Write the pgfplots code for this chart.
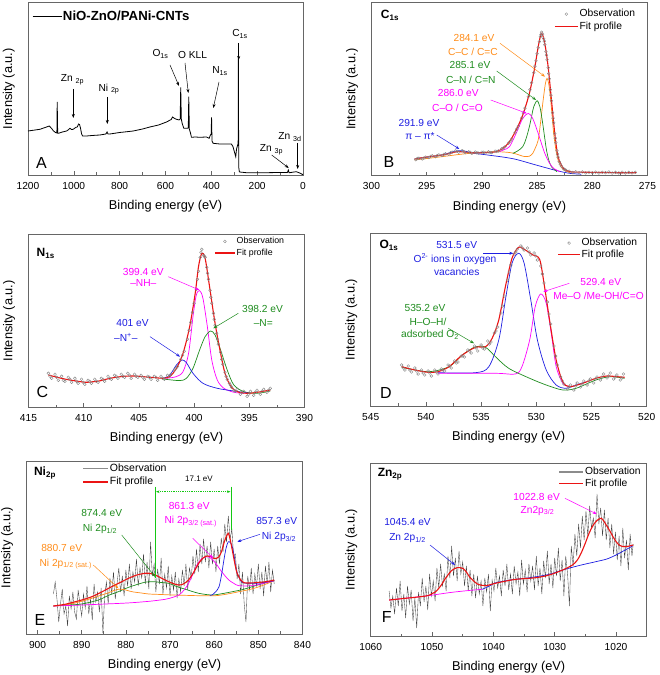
\documentclass[border=0pt]{standalone}
\usepackage{fontspec}
\setmainfont{Liberation Sans}
\usepackage{pgfplots}
\pgfplotsset{compat=1.18}
\usetikzlibrary{arrows.meta}

\definecolor{cOr}{RGB}{255,140,25}
\definecolor{cGr}{RGB}{30,140,30}
\definecolor{cLg}{RGB}{20,200,20}
\definecolor{cMa}{RGB}{255,0,255}
\definecolor{cBl}{RGB}{30,30,225}
\definecolor{cRd}{RGB}{235,20,20}
\definecolor{cGy}{RGB}{135,135,135}

\newcommand{\fa}{\fontsize{10.2}{11}\selectfont}
\newcommand{\ft}{\fontsize{12}{13}\selectfont\bfseries}
\newcommand{\fl}{\fontsize{16}{17}\selectfont}

\pgfplotsset{
  xps/.style={
    scale only axis, width=276pt, height=173pt,
    x dir=reverse, ymin=0, ymax=173,
    ytick=\empty, xtick pos=bottom, tick align=inside,
    minor x tick num=1,
    major tick length=4pt, minor tick length=2.5pt,
    axis line style={black!60, line width=0.7pt},
    every tick/.style={black!60, line width=0.6pt},
    /pgf/number format/assume math mode=true,
    /pgf/number format/1000 sep={},
    tick label style={font=\fontsize{10.2}{12}\selectfont},
    xticklabel style={yshift=-3.5pt},
    xlabel={Binding energy (eV)},
    ylabel={Intensity (a.u.)},
    label style={font=\fontsize{12.8}{14}\selectfont},
    xlabel style={at={(axis description cs:0.5,0)}, anchor=center, yshift=-31pt},
    ylabel style={at={(axis description cs:-0.07,0.5)}, anchor=center},
    legend cell align=left,
    legend style={draw=none, fill=none, inner sep=0pt, anchor=north west,
      nodes={inner sep=1pt, text depth=0.2em}},
  },
  legblack/.style={legend image code/.code={\draw[black, line width=0.8pt] (0pt,0pt) -- (#1,0pt);}},
  legred/.style={legend image code/.code={\draw[cRd, line width=1.5pt] (0pt,0pt) -- (#1,0pt);}},
  leggray/.style={legend image code/.code={\draw[black!45, line width=1.3pt] (0pt,0pt) -- (#1,0pt);}},
  legmark/.style={legend image code/.code={\draw[cGy, line width=0.4pt] plot[only marks, mark=o, mark size=1.4pt] coordinates {(#1/2,0pt)};}},
  obs/.style={only marks, mark=o, mark size=1.4pt, cGy, mark options={line width=0.4pt}, forget plot},
  fit/.style={cRd, line width=1.1pt, smooth, tension=0.5, forget plot},
  comp/.style={line width=0.7pt, smooth, tension=0.5, forget plot},
  noisy/.style={black!75, line width=0.35pt, forget plot},
}
\tikzset{ann/.style={-{Stealth[length=4pt,width=3pt]}, line width=0.5pt}}

\begin{document}
\begin{tikzpicture}
\useasboundingbox (0,0) rectangle (659pt,675pt);

% ---------------- A: survey
\begin{axis}[xps, at={(28pt,500pt)}, anchor=south west, width=275pt, height=172.5pt, ymax=172.5,
  xmin=0, xmax=1200, xtick={0,200,...,1200},
  legend style={at={(axis description cs:0.0145,0.958)}, font=\bfseries\fontsize{13.2}{14}\selectfont}]
\addlegendimage{legblack=29pt}
\addlegendentry{NiO-ZnO/PANi-CNTs}
\addplot[black, line width=0.8pt, forget plot] coordinates {
(1200,44)(1175,44.8)(1148,45.7)(1125,47.5)(1107,49)(1095,46)(1090,44.3)(1080,42.5)(1074,42)(1072.5,73)(1070.5,42)
(1067,41.7)(1050,43)(1031.5,44)(1025,45)(1017,46.7)(1010,45.5)(1002.4,45.7)(995,47)(990.8,47.7)(985,48)(979.2,51)
(975,50.5)(971,47)(966,41)(961.7,39)(944.3,39)(920,39.5)(886.2,40)(860,41)(855,43)(851,41)(842.6,41)(800,42.5)
(740.9,44)(700,46)(668.3,48)(630,50)(595.6,53)(575,55.5)(569.5,58)(560,56.5)(552.1,55.7)(540.4,55)(536,56)
(533.5,87.7)(531,56)(527.3,51.7)(520.1,46.7)(505.6,46.7)(500.5,47)(498.5,78.3)(496,46)(491,42)(486.7,37.7)
(470,38)(450.4,37.7)(421.3,38)(409.7,36.7)(403.9,40)(400.8,41)(399,57.7)(397,34)(392.3,31.7)(363.2,31)(312.4,31)
(305.4,28.3)(298,22)(293.5,18.3)(290,26)(285,30)(283,32)(282,116.7)(280.5,8)(278,3.5)(276,3)(247,2.3)(160,2.3)
(100,2.5)(68,2.5)(64,5)(61,2.4)(58,2.3)(45,2.8)(29,3.3)(14.5,2)(0,0.3)};
\end{axis}

% ---------------- B: C1s
\begin{axis}[xps, at={(371.5pt,499.3pt)}, anchor=south west,
  xmin=275, xmax=300, xtick={275,280,...,300},
  legend style={at={(axis description cs:0.661,0.968)}, font=\fontsize{10.3}{11}\selectfont, row sep=1pt}]
\addlegendimage{legmark=23pt}
\addlegendentry{Observation}
\addlegendimage{legred=23pt}
\addlegendentry{Fit profile}
\addplot[obs] coordinates {
(296.0,16.0)(295.7,17.5)(295.4,16.8)(295.1,18.6)(294.8,18.2)(294.5,19.9)(294.2,19.0)(293.9,20.8)(293.6,20.2)
(293.3,21.9)(293.0,21.5)(292.7,23.6)(292.4,24.8)(292.1,23.5)(291.8,25.0)(291.5,23.0)(291.2,23.9)(290.9,22.4)
(290.6,23.6)(290.3,22.6)(290.0,23.5)(289.7,22.7)(289.4,23.9)(289.1,23.0)(288.8,24.6)(288.5,24.8)(288.2,26.8)
(287.9,29.0)(287.6,32.5)(287.3,36.5)(287.0,43.0)(286.7,49.5)(286.4,57.5)(286.1,67.5)(285.8,79.0)(285.5,93.0)
(285.3,103.0)(285.1,115.0)(284.9,128.0)(284.8,134.0)(284.7,139.0)(284.6,143.5)(284.5,141.5)(284.4,137.0)
(284.3,131.0)(284.2,124.0)(284.1,116.0)(284.0,108.0)(283.9,97.0)(283.8,86.0)(283.7,75.0)(283.6,63.0)(283.5,53.0)
(283.4,42.0)(283.3,33.0)(283.2,25.0)(283.1,18.5)(283.0,14.0)(282.8,9.5)(282.6,7.0)(282.4,5.5)(282.1,4.5)
(281.8,3.2)(281.5,4.0)(281.2,3.0)(280.9,3.8)(280.6,2.8)(280.3,3.5)(280.0,2.9)(279.7,3.6)(279.4,2.7)(279.1,3.4)
(278.8,3.0)(278.5,3.7)(278.2,2.6)(277.9,3.3)(277.6,2.8)(277.3,3.5)(277.0,2.7)(276.7,3.3)(276.4,2.8)(276.1,3.4)
(295.85,17.2)(295.25,17.6)(294.65,19.3)(294.05,20.1)(293.45,21.3)(292.85,22.9)(292.25,24.4)(291.65,24.2)
(291.05,23.3)(290.45,22.9)(289.85,23.4)(289.25,23.2)(288.65,24.2)(288.05,27.7)(287.45,34.2)(286.85,46.5)
(286.25,62.8)(285.65,86.0)(285.2,109.5)(285.0,122.0)(284.65,141.0)(284.35,134.5)(284.15,120.5)(283.95,102.0)
(283.75,80.5)(283.55,57.5)(283.35,37.5)(283.15,21.5)(282.9,11.5)(282.5,6.2)};
\addplot[comp, cBl] coordinates {(296.1,16.7)(295,18.5)(294,20)(293.2,22)(292.5,24.3)(292,25)(291.5,24.5)(290.8,22.5)
(290.2,21.7)(289,20)(288,18.5)(286.9,16.3)(285.1,10.7)(283.2,5)(282,2.3)(281,1.5)};
\addplot[comp, cOr] coordinates {(296.1,15.7)(294,18.5)(291.7,21.7)(290,23.3)(288.7,24)(287.5,23.2)(286.9,21.7)
(286.2,19.3)(285.7,19.5)(285.4,22.3)(285.15,28)(284.9,35.7)(284.7,52)(284.45,75.7)(284.25,92)(284.1,97.3)(283.95,92)
(283.8,79)(283.65,61)(283.5,42.3)(283.3,26)(283.1,15.7)(282.85,9)(282.6,5.7)(282.0,3)};
\addplot[comp, cGr] coordinates {(287.2,22.3)(286.8,24.5)(286.3,29)(286,37)(285.7,49)(285.45,62)(285.3,69)(285.0,75)
(284.75,69)(284.6,60)(284.45,49)(284.3,37)(284.15,25.7)(283.95,16)(283.7,9)(283.2,4)};
\addplot[comp, cMa] coordinates {(288.4,24)(288,26)(287.5,29)(286.9,42.3)(286.3,57.3)(285.8,62.3)(285.4,57.3)
(284.9,42.3)(284.6,32)(284.3,22.3)(283.9,13)(283.5,7.3)(282.9,4)};
\addplot[fit] coordinates {(296.1,16.7)(295.5,17.8)(294.8,19)(294.2,19.8)(293.6,20.7)(293,22)(292.3,24)
(291.7,23.8)(291.1,23)(290.5,23)(289.9,23)(289.3,23.3)(288.7,24)(288.1,27.3)(287.5,34)(286.9,45.7)(286.3,60.7)
(285.7,82.3)(285.2,109)(284.9,129)(284.6,142.3)(284.3,132)(284.0,109)(283.7,75.7)(283.4,42.3)(283.1,19)(282.6,7.3)
(282.0,4)(281,3.5)(279.6,3.3)(278,3)(276,3)};
\end{axis}

% ---------------- C: N1s
\begin{axis}[xps, at={(28.5pt,267.7pt)}, anchor=south west,
  xmin=390, xmax=415, xtick={390,395,...,415},
  legend style={at={(axis description cs:0.672,0.99)}, font=\fontsize{8.8}{10}\selectfont, row sep=1.4pt}]
\addlegendimage{legmark=20pt}
\addlegendentry{Observation}
\addlegendimage{legred=20pt}
\addlegendentry{Fit profile}
\addplot[obs] coordinates {
(413.2,34)(412.9,29)(412.6,33)(412.3,27)(412.0,31)(411.7,26)(411.4,30)(411.1,25)(410.8,29)(410.5,24)(410.2,28)
(409.9,23)(409.6,27)(409.3,24)(409.0,28)(408.7,25)(408.4,29)(408.1,26)(407.8,31)(407.5,28)(407.2,32)(406.9,29)
(406.6,33)(406.3,30)(406.0,34)(405.7,29)(405.4,33)(405.1,30)(404.8,32)(404.5,28)(404.2,31)(403.9,28)(403.6,31)
(403.3,27)(403.0,31)(402.7,28)(402.4,32)(402.1,33)(401.8,37)(401.5,41)(401.2,48)(400.9,56)(400.6,68)(400.3,85)
(400.0,104)(399.8,118)(399.6,136)(399.45,150)(399.3,158)(399.15,152)(399.0,150)(398.85,140)(398.7,128)
(398.55,117)(398.4,104)(398.25,94)(398.1,82)(397.95,74)(397.8,63)(397.6,55)(397.4,43)(397.2,35)(397.0,28)
(396.8,24)(396.6,20)(396.4,17)(396.1,18)(395.8,13)(395.5,16)(395.2,11)(394.9,16)(394.6,12)(394.3,17)(394.0,13)
(393.7,18)(393.4,15)(393.1,19)
(413.05,31)(412.45,30)(411.85,27)(411.25,28)(410.65,26)(410.05,25)(409.45,26)(408.85,26)(408.25,28)(407.65,29)
(407.05,31)(406.45,31)(405.85,32)(405.25,31)(404.65,30)(404.05,30)(403.45,30)(402.85,29)(402.25,31)(401.65,39)
(401.05,52)(400.45,77)(400.15,95)(399.7,128)(399.38,155)(399.07,151)(398.78,134)(398.48,110)(398.18,88)
(397.88,68)(397.5,48)(397.1,31)(396.7,22)(396.25,16)(395.65,15)(395.05,13)(394.45,15)(393.85,16)(393.25,17)};
\addplot[comp, cMa] coordinates {(402.5,29)(401.6,30.7)(401.0,35.7)(400.5,54)(400.1,90.7)(399.8,112.3)(399.5,116.7)
(399.2,109)(398.8,80.7)(398.4,47.3)(397.9,27.3)(397.3,19)(396.4,15)(395.5,14)};
\addplot[comp, cGr] coordinates {(402.8,28.3)(401.3,26.7)(400.7,29)(400.1,39)(399.5,57.3)(399.0,70.7)(398.5,76.3)
(398.1,72.3)(397.6,57.3)(397.0,37.3)(396.4,22.3)(395.5,15.7)(394.3,14)(393.1,16.3)};
\addplot[comp, cBl] coordinates {(402.8,29)(402.2,32.3)(401.6,42.3)(401.1,47.3)(400.7,44.7)(400.1,34)(399.2,24)
(397.9,19)(396.4,16.3)(394.9,14)};
\addplot[fit] coordinates {(413.2,32.3)(412.4,30)(411.6,28)(410.7,26.3)(409.8,25)(409.2,25.5)(408.6,26.3)
(407.8,28.5)(407.1,30)(406.3,31)(405.5,31.3)(404.8,30.8)(404.0,30)(403.4,29.5)(402.8,29)(402.2,30.7)(401.6,39)
(401.0,54)(400.4,80.7)(399.9,114)(399.6,140.7)(399.3,154)(399.0,149)(398.6,120.7)(398.1,84)(397.6,54)(397.2,34)
(396.7,21.3)(396.1,15.7)(395.2,14)(394.3,15)(393.1,17.3)};
\end{axis}

% ---------------- D: O1s
\begin{axis}[xps, at={(370.7pt,269pt)}, anchor=south west,
  xmin=520, xmax=545, xtick={520,525,...,545},
  legend style={at={(axis description cs:0.676,0.976)}, font=\fontsize{10.3}{11}\selectfont, row sep=0pt}]
\addlegendimage{legmark=21.7pt}
\addlegendentry{Observation}
\addlegendimage{legred=21.7pt}
\addlegendentry{Fit profile}
\addplot[obs] coordinates {
(542.2,41)(541.9,36)(541.6,40)(541.3,34)(541.0,38)(540.7,32)(540.4,36)(540.1,31)(539.8,35)(539.5,30)(539.2,36)
(538.9,32)(538.6,37)(538.3,35)(538.0,41)(537.7,38)(537.4,45)(537.1,44)(536.8,50)(536.5,49)(536.2,56)(535.9,53)
(535.6,60)(535.3,55)(535.0,61)(534.7,57)(534.4,65)(534.1,64)(533.8,73)(533.5,79)(533.2,93)(532.9,110)(532.6,126)
(532.3,141)(532.0,152)(531.7,157)(531.4,160)(531.1,156)(530.8,158)(530.5,151)(530.2,153)(529.9,146)(529.6,140)
(529.3,123)(529.0,104)(528.7,82)(528.4,60)(528.1,41)(527.8,29)(527.5,22)(527.2,17)(526.9,21)(526.6,16)(526.3,23)
(526.0,19)(525.7,25)(525.4,21)(525.1,27)(524.8,23)(524.5,29)(524.2,26)(523.9,32)(523.6,28)(523.3,33)(523.0,27)
(522.7,31)(522.4,26)(522.1,32)
(542.05,38)(541.45,36)(540.85,35)(540.25,33)(539.65,33)(539.05,34)(538.45,36)(537.85,40)(537.25,43)(536.65,50)
(536.05,55)(535.45,58)(534.85,58)(534.25,62)(533.65,75)(533.05,100)(532.45,134)(531.85,154)(531.25,158)
(530.65,154)(530.05,150)(529.45,132)(528.85,92)(528.25,50)(527.65,25)(527.05,19)(526.45,20)(525.85,22)
(525.25,25)(524.65,27)(524.05,29)(523.45,30)(522.85,29)(522.25,28)};
\addplot[comp, cBl] coordinates {(538.9,33.3)(535.5,33.3)(534.3,39.3)(533.4,66)(532.8,106)(532.2,142.7)(531.6,152.7)
(531.1,142.7)(530.5,106)(529.9,66)(529.1,36)(528.2,21)(527.3,17.7)(526.4,21)(525.5,24)};
\addplot[comp, cMa] coordinates {(538.9,32.7)(533.7,32.7)(531.9,32)(531.3,39.3)(530.6,66)(530.1,99.3)(529.6,112)
(529.1,102.7)(528.6,69.3)(528.2,39.3)(527.6,22.7)(527.0,19.3)};
\addplot[comp, cGr] coordinates {(542.2,38.7)(539.8,34.3)(537.9,39.3)(536.7,51)(535.5,59.3)(534.6,58.7)(533.7,49.3)
(532.5,37.7)(530.6,27.7)(529.1,21)(527.6,16)(526.4,17.7)(524.6,26)(523.3,29.3)(522,27.7)};
\addplot[fit] coordinates {(542.2,39.3)(541.0,36)(539.8,33.7)(538.9,34.3)(537.9,39.3)(536.7,51)
(535.5,58.7)(534.6,59.3)(534.0,67.7)(533.4,86)(532.8,119.3)(532.2,147.7)(531.6,158.7)(531.0,156)(530.3,151)
(529.7,146.7)(529.3,122.7)(528.8,86)(528.2,46)(527.6,24.3)(527.0,19.3)(525.8,22.7)(524.6,27.7)(523.6,30)
(522.7,29.3)(522.0,28.7)};
\end{axis}

% ---------------- E: Ni2p
\begin{axis}[xps, at={(26.5pt,41pt)}, anchor=south west,
  xmin=840, xmax=902.5, xtick={840,850,...,900},
  legend style={at={(axis description cs:0.202,0.99)}, font=\fontsize{10.5}{11}\selectfont, row sep=1.6pt}]
\addlegendimage{leggray=25pt}
\addlegendentry{Observation}
\addlegendimage{legred=25pt}
\addlegendentry{Fit profile}
\addplot[noisy] coordinates {
(896.4,40)(896.0,52)(895.6,35)(895.2,12)(894.8,30)(894.4,45)(894.0,20)(893.6,28)(893.2,8)(892.8,38)(892.4,25)
(892.0,42)(891.6,22)(891.2,15)(890.8,44)(890.4,30)(890.0,18)(889.6,40)(889.2,26)(888.8,48)(888.4,20)(888.0,35)
(887.6,14)(887.2,50)(886.8,32)(886.4,42)(886.0,22)(885.6,46)(885.2,1)(884.8,38)(884.4,52)(884.0,30)(883.6,56)
(883.2,40)(882.8,62)(882.4,35)(882.0,50)(881.6,66)(881.2,42)(880.8,58)(880.4,38)(880.0,64)(879.6,48)(879.2,70)
(878.8,45)(878.4,62)(878.0,52)(877.6,75)(877.2,48)(876.8,66)(876.4,56)(876.0,80)(875.6,50)(875.2,72)(874.8,45)
(874.4,92)(874.0,58)(873.6,70)(873.2,42)(872.8,65)(872.4,50)(872.0,76)(871.6,40)(871.2,60)(870.8,46)(870.4,68)
(870.0,38)(869.6,58)(869.2,44)(868.8,62)(868.4,36)(868.0,55)(867.6,42)(867.2,64)(866.8,48)(866.4,70)(866.0,44)
(865.6,66)(865.2,56)(864.8,78)(864.4,60)(864.0,85)(863.6,62)(863.2,90)(862.8,70)(862.4,95)(862.0,72)(861.6,88)
(861.2,66)(860.8,92)(860.4,70)(860.0,85)(859.6,62)(859.2,88)(858.8,70)(858.4,96)(858.0,82)(857.6,110)(857.2,92)
(856.8,118)(856.4,95)(856.0,105)(855.6,78)(855.2,80)(854.8,55)(854.4,70)(854.0,40)(853.6,62)(853.2,30)(852.8,12)
(852.4,58)(852.0,44)(851.6,66)(851.2,40)(850.8,60)(850.4,48)(850.0,70)(849.6,45)(849.2,62)(848.8,38)(848.4,68)
(848.0,50)(847.6,72)(847.2,42)(846.8,64)(846.4,50)};
\addplot[comp, cGr] coordinates {(896.4,28)(893,29)(890,30)(886.2,34)(884,38.5)(881.7,42.3)(879.5,46.5)(877.1,50)
(875.4,52)(873.7,52.3)(872,51.5)(870.3,50.7)(868.5,47.5)(866.5,44.7)(863.5,40.7)(860.5,39)(858,40.5)(855.9,42.3)
(853.5,44.5)(851.4,47.3)(849,50.5)(846.4,53.3)};
\addplot[comp, cOr] coordinates {(896.4,28)(892,30.5)(887.7,35.7)(885.8,38.5)(883.9,41.3)(882.7,43.5)(881.7,44.7)
(880.5,44.5)(878.6,42.3)(876.5,41)(874.8,40)(872,39.5)(869.5,39)(866,38.6)(863.5,38.3)(859.7,38.3)(857,40)
(854.4,42.3)(852,44.5)(849.8,47.3)(846.4,53.3)};
\addplot[comp, cMa] coordinates {(896.4,28)(891,28.8)(886.2,29.7)(882,30.5)(878.6,31.3)(874.5,32.8)(871.1,34.7)
(869.5,36.5)(868,39)(866.8,44)(865.8,50.7)(864.8,60)(863.9,69)(863,74.5)(862,77.3)(861.2,77)(860.5,74.7)
(859.5,70)(858.6,64)(857.6,58.5)(856.7,54)(855.5,50.5)(854.4,48.3)(851.4,48.3)(849,50.5)(846.4,53.3)};
\addplot[comp, cBl] coordinates {(861,38.8)(860.5,39)(859.7,42)(858.9,47.3)(858.3,60)(857.8,74)(857.3,86)(856.8,92.3)
(856.3,91)(855.9,87.3)(855.4,76)(855,64)(854.3,56)(853.6,51.3)(852,50.8)(850.6,50.7)(848.5,51.8)(846.4,53.3)};
\addplot[fit] coordinates {(896.4,28)(894,29.5)(892.3,31.3)(890,34)(887.7,37.3)(885.5,42)(883.2,47.3)
(881.3,51.5)(879.4,55.7)(877.5,59)(875.6,60.7)(874.4,60.5)(873.3,59)(871.8,55.5)(870.3,52.3)(869,50)(868,49)
(867,50)(865.8,54)(864.6,62)(863.5,70.7)(862.5,76)(861.6,78)(860.8,77.5)(860.1,75.7)(859.5,75.5)(858.9,77.3)
(858.3,83)(857.8,90.7)(857.3,97)(856.8,100.7)(856.4,95)(855.9,84)(855.3,70)(854.8,60.7)(854,54)(853.3,51.3)
(852,51)(850.6,51.3)(848.3,52.3)(846.4,54)};
\end{axis}

% ---------------- F: Zn2p
\begin{axis}[xps, at={(370.7pt,39pt)}, anchor=south west,
  xmin=1015, xmax=1060, xtick={1020,1030,...,1060},
  legend style={at={(axis description cs:0.68,0.982)}, font=\fontsize{10.3}{11}\selectfont, row sep=0pt}]
\addlegendimage{leggray=24pt}
\addlegendentry{Observation}
\addlegendimage{legred=24pt}
\addlegendentry{Fit profile}
\addplot[noisy] coordinates {
(1057.0,45)(1056.7,28)(1056.4,40)(1056.1,22)(1055.8,48)(1055.5,30)(1055.2,55)(1054.9,25)(1054.6,42)(1054.3,18)
(1054.0,50)(1053.7,32)(1053.4,46)(1053.1,15)(1052.8,38)(1052.5,8)(1052.2,44)(1051.9,30)(1051.6,58)(1051.3,34)
(1051.0,50)(1050.7,26)(1050.4,62)(1050.1,40)(1049.8,55)(1049.5,35)(1049.2,68)(1048.9,48)(1048.6,72)(1048.3,50)
(1048.0,62)(1047.7,45)(1047.4,80)(1047.1,58)(1046.8,90)(1046.5,60)(1046.2,78)(1045.9,55)(1045.6,85)(1045.3,62)
(1045.0,74)(1044.7,50)(1044.4,70)(1044.1,45)(1043.8,66)(1043.5,40)(1043.2,62)(1042.9,38)(1042.6,60)(1042.3,42)
(1042.0,55)(1041.7,30)(1041.4,58)(1041.1,44)(1040.8,62)(1040.5,25)(1040.2,56)(1039.9,45)(1039.6,68)(1039.3,48)
(1039.0,60)(1038.7,40)(1038.4,66)(1038.1,50)(1037.8,72)(1037.5,46)(1037.2,62)(1036.9,42)(1036.6,70)(1036.3,52)
(1036.0,64)(1035.7,40)(1035.4,76)(1035.1,52)(1034.8,66)(1034.5,44)(1034.2,72)(1033.9,55)(1033.6,70)(1033.3,46)
(1033.0,80)(1032.7,50)(1032.4,68)(1032.1,42)(1031.8,75)(1031.5,58)(1031.2,85)(1030.9,52)(1030.6,72)(1030.3,48)
(1030.0,78)(1029.7,60)(1029.4,88)(1029.1,55)(1028.8,76)(1028.5,40)(1028.2,80)(1027.9,62)(1027.6,30)(1027.3,90)
(1027.0,70)(1026.7,102)(1026.4,80)(1026.1,112)(1025.8,88)(1025.5,120)(1025.2,96)(1024.9,125)(1024.6,100)
(1024.3,130)(1024.0,108)(1023.7,118)(1023.4,98)(1023.1,142)(1022.8,112)(1022.5,128)(1022.2,100)(1021.9,126)
(1021.6,96)(1021.3,118)(1021.0,88)(1020.7,112)(1020.4,82)(1020.1,104)(1019.8,76)(1019.5,100)(1019.2,70)
(1018.9,108)(1018.6,78)(1018.3,96)(1018.0,66)(1017.7,102)(1017.4,80)(1017.2,92)};
\addplot[comp, cMa] coordinates {(1057,36)(1054,38)(1051,40)(1047,43.5)(1044,45.5)(1041.8,46.7)};
\addplot[comp, cBl] coordinates {(1041.8,46.7)(1040.5,50.5)(1039.6,53.3)(1037,56.2)(1034.1,58.3)(1031,61.5)(1028.7,66)
(1026,70.5)(1023.3,74.3)(1021.5,77)(1020,81)(1018.5,86)(1017.3,90)};
\addplot[fit] coordinates {(1057,36)(1054.3,37.7)(1051,40)(1050,42.3)(1049.4,44.3)(1048.6,50)(1047.8,57.7)
(1046.8,65.5)(1045.9,68.3)(1045,67.7)(1044.4,64)(1043.9,59.3)(1043.2,55)(1042.6,52)(1041.9,50.7)(1041.2,50.3)
(1039.8,52.5)(1038.5,54.3)(1036.3,56.7)(1033.1,58.3)(1030.9,61)(1028.7,66)(1027.1,71)(1026.3,76)(1025.7,82.7)
(1025,93)(1024.4,102.7)(1023.8,110)(1023.3,114.3)(1022.8,117)(1022.4,117.7)(1022,115)(1021.6,111)(1021,105)
(1020.5,99.3)(1020,94.5)(1019.5,91)(1018.9,89.5)(1018.4,89.3)(1017.8,90)(1017.2,91)};
\end{axis}

% ---------------- annotations (pixel frame, y downwards)
\begin{scope}[yshift=675pt, x=1pt, y=-1pt, every node/.style={inner sep=0pt}]
% A
\node[font=\fl] at (41.5,163) {A};
\node[font=\fa] at (72.5,80) {Zn \textsubscript{2p}};
\draw[ann] (73.3,89) -- (73.3,118);
\node[font=\fa] at (109,89) {Ni \textsubscript{2p}};
\draw[ann] (107.3,97) -- (107.3,124);
\node[font=\fa] at (160.5,54) {O\textsubscript{1s}};
\draw[ann] (170,65) -- (179,86);
\node[font=\fa] at (192.5,55) {O KLL};
\draw[ann] (185,63) -- (188.3,93);
\node[font=\fa] at (220,71) {N\textsubscript{1s}};
\draw[ann] (219,82) -- (213.3,108);
\node[font=\fa] at (240,34) {C\textsubscript{1s}};
\draw[ann] (238.7,43) -- (238.7,60);
\node[font=\fa] at (290,137) {Zn \textsubscript{3d}};
\draw[ann] (297.7,143) -- (297.7,169);
\node[font=\fa] at (271.5,150) {Zn \textsubscript{3p}};
\draw[ann] (271.7,155) -- (288.7,168);
% B
\node[font=\ft] at (390,15) {C\textsubscript{1s}};
\node[font=\fl] at (389,161.7) {B};
\node[font=\fa, text=cOr] at (474,38) {284.1 eV};
\node[font=\fa, text=cOr] at (473,52.3) {C–C / C=C};
\draw[ann, cOr] (500,43.3) -- (545,76.7);
\node[font=\fa, text=cGr] at (470,65) {285.1 eV};
\node[font=\fa, text=cGr] at (470.8,80) {C–N / C=N};
\draw[ann, cGr] (496.7,71) -- (536,100);
\node[font=\fa, text=cMa] at (458.3,93.3) {286.0 eV};
\node[font=\fa, text=cMa] at (457.5,107.7) {C–O / C=O};
\draw[ann, cMa] (490.7,100) -- (526.7,113.3);
\node[font=\fa, text=cBl] at (419,122.7) {291.9 eV};
\node[font=\fa, text=cBl] at (420,136) {π – π*};
\draw[ann, cBl] (436.7,135) -- (459.3,149);
% C
\node[font=\ft] at (45.7,253.3) {N\textsubscript{1s}};
\node[font=\fl] at (42.5,391.7) {C};
\node[font=\fa, text=cMa] at (143.3,271.7) {399.4 eV};
\node[font=\fa, text=cMa] at (143.3,283.3) {–NH–};
\draw[ann, cMa] (168.3,276.7) -- (199.3,290);
\node[font=\fa, text=cGr] at (262.5,309.3) {398.2 eV};
\node[font=\fa, text=cGr] at (263.3,323.3) {–N=};
\draw[ann, cGr] (238.3,313.3) -- (213.3,328.3);
\node[font=\fa, text=cBl] at (132.5,323.3) {401 eV};
\node[font=\fa, text=cBl] at (125.8,337.3) {–N\textsuperscript{+}–};
\draw[ann, cBl] (150,336.7) -- (180,356.7);
% D
\node[font=\ft] at (389,245) {O\textsubscript{1s}};
\node[font=\fl] at (386,393.3) {D};
\node[font=\fa, text=cBl] at (456.7,245) {531.5 eV};
\node[font=\fa, text=cBl] at (455,259.3) {O\textsuperscript{2-} ions in oxygen};
\node[font=\fa, text=cBl] at (456.7,272.3) {vacancies};
\draw[ann, cBl] (483.3,253.3) -- (513.3,253.3);
\node[font=\fa, text=cMa] at (600.8,281.7) {529.4 eV};
\node[font=\fa, text=cMa] at (598.5,296) {Me–O /Me-OH/C=O};
\draw[ann, cMa] (569.3,283.3) -- (543.3,291.7);
\node[font=\fa, text=cGr] at (425,308.3) {535.2 eV};
\node[font=\fa, text=cGr] at (428,321.7) {H–O–H/};
\node[font=\fa, text=cGr] at (430,335) {adsorbed O\textsubscript{2}};
\draw[ann, cGr] (448.3,328.3) -- (474,343.3);
% E
\node[font=\ft] at (45,473.3) {Ni\textsubscript{2p}};
\node[font=\fl] at (40,620) {E};
\node[font=\fontsize{8}{9}\selectfont] at (199,478.3) {17.1 eV};
\draw[cLg, line width=0.8pt] (155,486.7) -- (155,578);
\draw[cLg, line width=0.8pt] (231.5,486.7) -- (231.5,530);
\draw[cLg, line width=0.8pt, densely dotted, {Stealth[length=3.5pt]}-{Stealth[length=3.5pt]}] (156,491.7) -- (230.5,491.7);
\node[font=\fa, text=cGr] at (101.7,512.7) {874.4 eV};
\node[font=\fa, text=cGr] at (100,529.3) {Ni 2p\textsubscript{1/2}};
\draw[ann, cGr] (121.7,535) -- (155,576.7);
\node[font=\fa, text=cMa] at (189.2,506) {861.3 eV};
\node[font=\fa, text=cMa] at (190.8,521.7) {Ni 2p\textsubscript{3/2 (sat.)}};
\draw[ann, cMa] (192.7,538.3) -- (213.3,558.3);
\node[font=\fa, text=cBl] at (276.7,520.7) {857.3 eV};
\node[font=\fa, text=cBl] at (279,536.7) {Ni 2p\textsubscript{3/2}};
\draw[ann, cBl] (260,534.3) -- (237.3,541.7);
\node[font=\fa, text=cOr] at (61.7,548.3) {880.7 eV};
\node[font=\fa, text=cOr] at (65.8,564) {Ni 2p\textsubscript{1/2 (sat.)}};
\draw[ann, cOr] (93.3,565) -- (118.3,588.3);
% F
\node[font=\ft] at (390,474.3) {Zn\textsubscript{2p}};
\node[font=\fl] at (386.7,616.7) {F};
\node[font=\fa, text=cMa] at (536.7,496.7) {1022.8 eV};
\node[font=\fa, text=cMa] at (537.5,510.7) {Zn2p\textsubscript{3/2}};
\draw[ann, cMa] (565,498.3) -- (596.7,514);
\node[font=\fa, text=cBl] at (407.5,521.7) {1045.4 eV};
\node[font=\fa, text=cBl] at (407.5,538.3) {Zn 2p\textsubscript{1/2}};
\draw[ann, cBl] (430,545) -- (455,565);
\end{scope}
\end{tikzpicture}
\end{document}
